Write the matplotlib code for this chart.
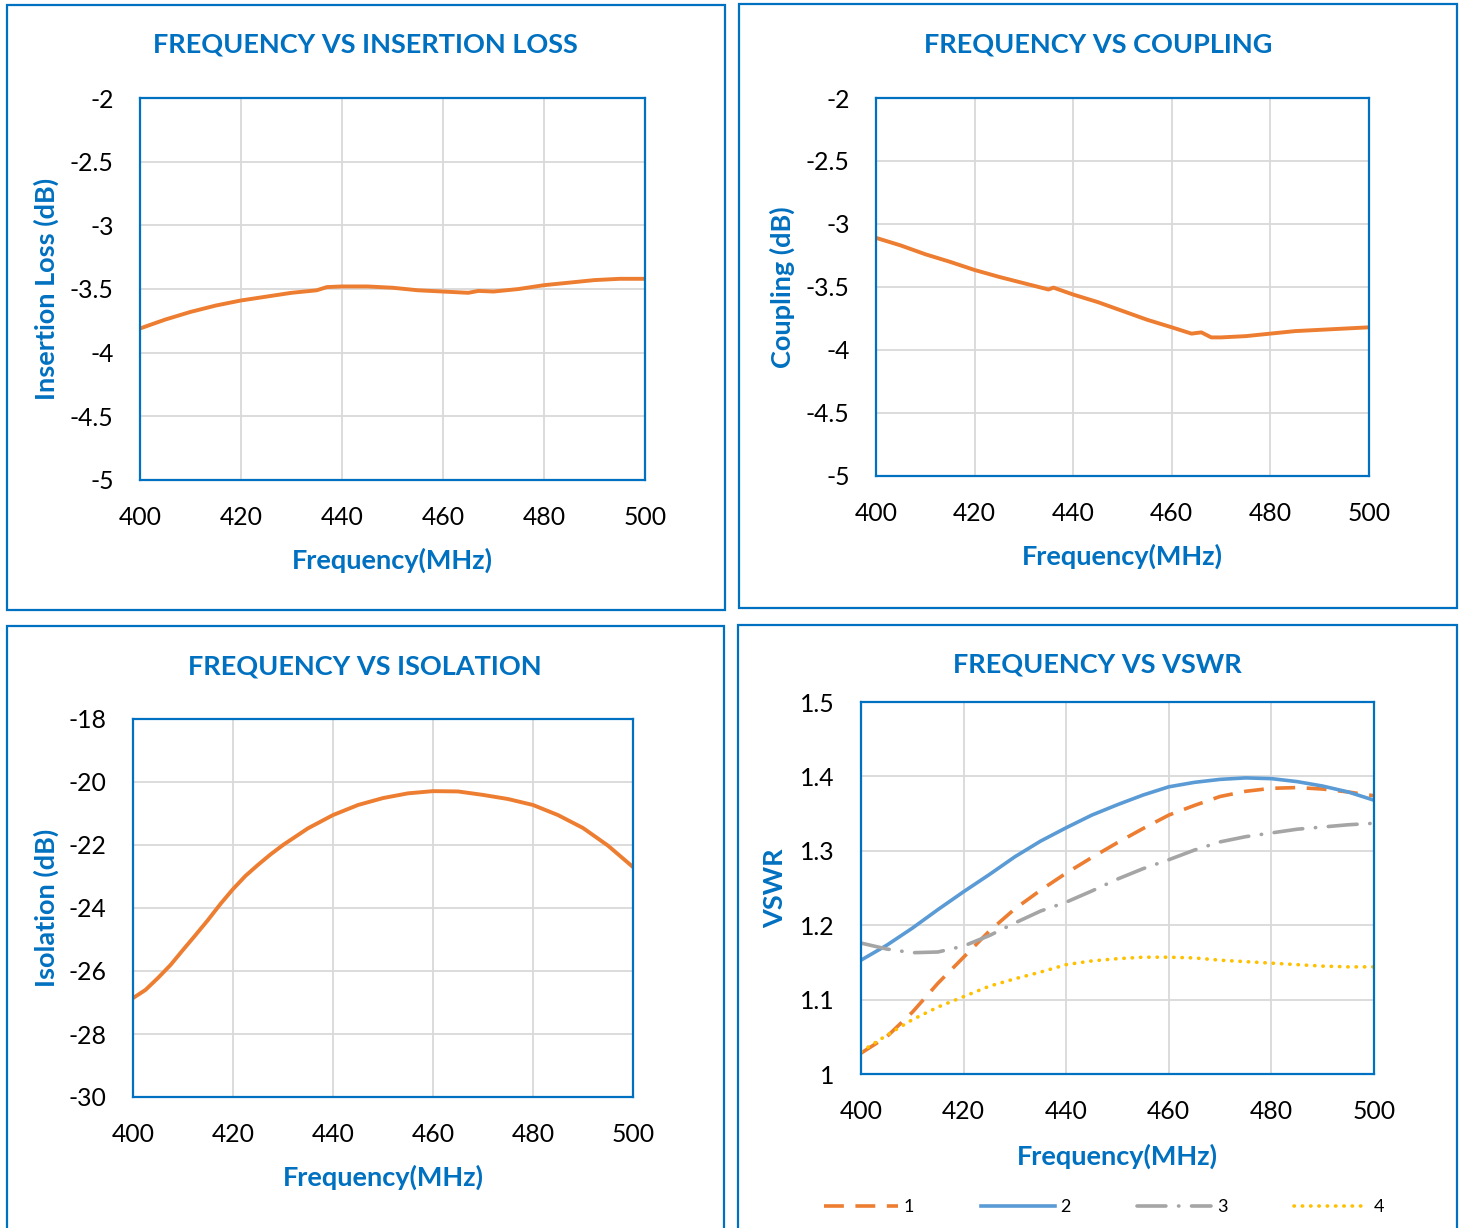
import matplotlib.pyplot as plt
from matplotlib.patches import Rectangle

plt.rcParams['font.family'] = ['Lato', 'DejaVu Sans']

# ---- data ----
il_freq = [400, 405, 410, 415, 420, 425, 430, 435, 437, 440, 445, 450, 455, 460, 465, 467, 470, 475, 480, 485, 490, 495, 500]
il_db = [-3.81, -3.74, -3.68, -3.63, -3.59, -3.56, -3.53, -3.51, -3.485, -3.48, -3.48, -3.49, -3.51, -3.52, -3.53, -3.515, -3.52, -3.50, -3.47, -3.45, -3.43, -3.42, -3.42]

cp_freq = [400, 405, 410, 415, 420, 425, 430, 435, 436, 440, 445, 450, 455, 460, 464, 466, 468, 470, 475, 480, 485, 490, 495, 500]
cp_db = [-3.11, -3.17, -3.24, -3.30, -3.365, -3.42, -3.47, -3.52, -3.505, -3.56, -3.62, -3.69, -3.76, -3.82, -3.87, -3.86, -3.90, -3.90, -3.89, -3.87, -3.85, -3.84, -3.83, -3.82]

iso_freq = [400, 402.5, 405, 407.5, 410, 412.5, 415, 417.5, 420, 422.5, 425, 427.5, 430, 435, 440, 445, 450, 455, 460, 465, 470, 475, 480, 485, 490, 495, 500]
iso_db = [-26.86, -26.60, -26.22, -25.81, -25.33, -24.86, -24.38, -23.87, -23.40, -22.98, -22.63, -22.30, -22.00, -21.47, -21.05, -20.73, -20.51, -20.36, -20.29, -20.30, -20.41, -20.54, -20.73, -21.05, -21.46, -22.02, -22.70]

vs_freq = [400, 405, 410, 415, 420, 425, 430, 435, 440, 445, 450, 455, 460, 465, 470, 475, 480, 485, 490, 495, 500]
vswr_1 = [1.028, 1.050, 1.083, 1.122, 1.157, 1.192, 1.222, 1.247, 1.270, 1.291, 1.311, 1.330, 1.348, 1.361, 1.373, 1.380, 1.384, 1.385, 1.383, 1.379, 1.374]
vswr_2 = [1.153, 1.173, 1.196, 1.221, 1.245, 1.268, 1.292, 1.313, 1.331, 1.348, 1.362, 1.375, 1.386, 1.392, 1.396, 1.398, 1.397, 1.393, 1.387, 1.379, 1.368]
vswr_3 = [1.176, 1.168, 1.163, 1.164, 1.172, 1.186, 1.203, 1.219, 1.231, 1.246, 1.262, 1.276, 1.288, 1.301, 1.312, 1.319, 1.324, 1.329, 1.332, 1.335, 1.337]
vswr_4 = [1.030, 1.052, 1.073, 1.090, 1.104, 1.118, 1.128, 1.137, 1.147, 1.152, 1.155, 1.157, 1.157, 1.156, 1.153, 1.151, 1.149, 1.147, 1.145, 1.144, 1.144]
vs_labels = ['1', '2', '3', '4']

freq_ticks = [400, 420, 440, 460, 480, 500]

BLUE = '#0070C0'
W, H = 1463, 1228

fig = plt.figure(figsize=(W / 100, H / 100), dpi=100)


def px_rect(x0, y0, x1, y1):
    return [x0 / W, 1 - y1 / H, (x1 - x0) / W, (y1 - y0) / H]


# panel frames
for x0, y0, x1, y1 in [(7, 5, 725, 610), (739, 4, 1457, 608), (7, 626, 724, 1240), (738, 625, 1457, 1240)]:
    r = px_rect(x0, y0, x1, y1)
    fig.patches.append(Rectangle((r[0], r[1]), r[2], r[3], transform=fig.transFigure,
                                 fill=False, edgecolor=BLUE, lw=1.6))


def style_ax(ax, title, ylabel, ylim, yticks, title_xy, ylab_x, xlab_y):
    ax.set_xlim(400, 500)
    ax.set_ylim(*ylim)
    ax.set_xticks(freq_ticks)
    ax.set_yticks(yticks)
    ax.set_yticklabels(['%g' % v for v in yticks])
    ax.grid(True, color='#D9D9D9', lw=1.3)
    ax.set_axisbelow(True)
    for s in ax.spines.values():
        s.set_color(BLUE)
        s.set_linewidth(1.6)
    ax.tick_params(length=0, labelsize=17.8, colors='black')
    ax.tick_params(axis='x', pad=19)
    ax.tick_params(axis='y', pad=19)
    fig.text(title_xy[0] / W, 1 - title_xy[1] / H, title, ha='center', va='center',
             fontsize=19.5, fontweight='bold', color=BLUE)
    pos = ax.get_position()
    fig.text(ylab_x / W, (pos.y0 + pos.y1) / 2, ylabel, rotation=90, ha='center', va='center',
             fontsize=19.5, fontweight='bold', color=BLUE)
    fig.text((pos.x0 + pos.x1) / 2, 1 - xlab_y / H, 'Frequency(MHz)', ha='center', va='center',
             fontsize=19.5, fontweight='bold', color=BLUE)


ax1 = fig.add_axes(px_rect(140, 98, 645, 480))
ax1.plot(il_freq, il_db, color='#ED7D31', lw=2.8)
style_ax(ax1, 'FREQUENCY VS INSERTION LOSS', 'Insertion Loss (dB)', (-5, -2),
         [-5, -4.5, -4, -3.5, -3, -2.5, -2], (365, 45), 46, 560)

ax2 = fig.add_axes(px_rect(876, 98, 1369, 476))
ax2.plot(cp_freq, cp_db, color='#ED7D31', lw=2.8)
style_ax(ax2, 'FREQUENCY VS COUPLING', 'Coupling (dB)', (-5, -2),
         [-5, -4.5, -4, -3.5, -3, -2.5, -2], (1098, 44), 782, 556)

ax3 = fig.add_axes(px_rect(133, 719, 633, 1097))
ax3.plot(iso_freq, iso_db, color='#ED7D31', lw=2.8)
style_ax(ax3, 'FREQUENCY VS ISOLATION', 'Isolation (dB)', (-30, -18),
         [-30, -28, -26, -24, -22, -20, -18], (365, 666), 46, 1177)

ax4 = fig.add_axes(px_rect(861, 702, 1374, 1074))
ax4.plot(vs_freq, vswr_1, color='#ED7D31', lw=2.6, dashes=(5.5, 3.2), label=vs_labels[0])
ax4.plot(vs_freq, vswr_2, color='#5B9BD5', lw=2.6, label=vs_labels[1])
ax4.plot(vs_freq, vswr_3, color='#A5A5A5', lw=2.6, dashes=(8, 3.5, 0.1, 3.5), dash_capstyle='round', label=vs_labels[2])
ax4.plot(vs_freq, vswr_4, color='#FFC000', lw=2.6, dashes=(0.1, 2.2), dash_capstyle='round', label=vs_labels[3])
style_ax(ax4, 'FREQUENCY VS VSWR', 'VSWR', (1, 1.5),
         [1, 1.1, 1.2, 1.3, 1.4, 1.5], (1097, 665), 775, 1156)
ax4.legend(loc='center', bbox_to_anchor=(1104 / W, 1 - 1207 / H), bbox_transform=fig.transFigure,
           ncol=4, frameon=False, fontsize=13, handlelength=4.1, columnspacing=3.7, handletextpad=0.3)

fig.savefig('out.png', dpi=100)
